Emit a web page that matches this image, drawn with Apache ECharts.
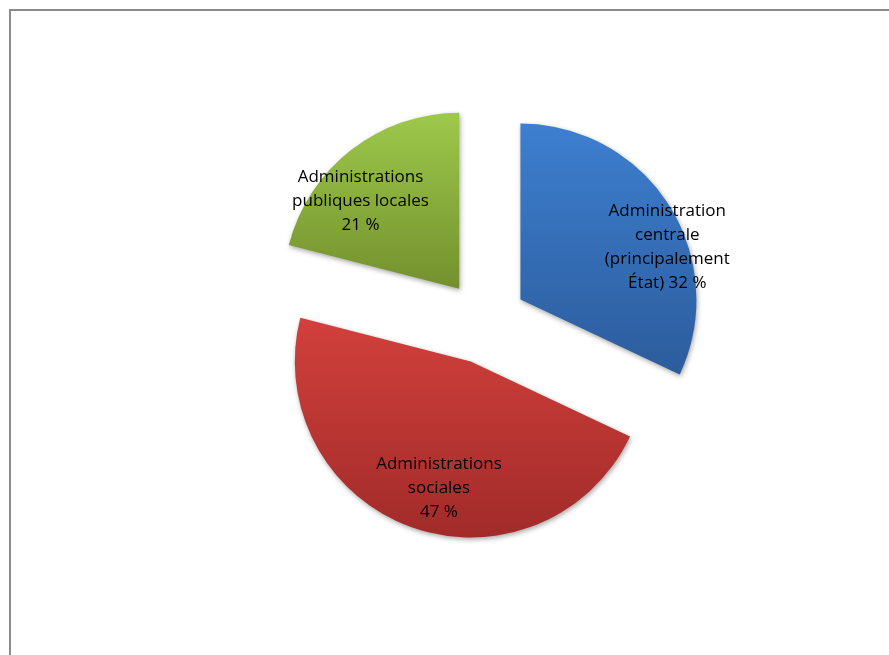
<!DOCTYPE html>
<html>
<head>
<meta charset="utf-8">
<script src="https://cdn.jsdelivr.net/npm/echarts@6/dist/echarts.min.js"></script>
<style>
  html, body { margin: 0; padding: 0; background: #ffffff; }
  #chart { width: 889px; height: 655px; }
</style>
</head>
<body>
<div id="chart"></div>
<script>
// Répartition de la dépense par sous-secteur des administrations publiques
const categories = [
  'Administration\ncentrale\n(principalement\nÉtat)',
  'Administrations\nsociales',
  'Administrations\npubliques locales'
];
const values = [32, 47, 21];
const valueSeparators = [' ', '\n', '\n'];

// Dégradés verticaux pour chaque secteur
const gradients = [
  ['#3d7fd0', '#2c5c9c'],
  ['#d2403c', '#a12b29'],
  ['#9dc94b', '#73902d']
];
// Décalage des étiquettes dans chaque secteur
const labelShift = [[70, -4], [-1, 41], [-43, -16]];

const chart = echarts.init(document.getElementById('chart'), null, { renderer: 'canvas' });

const data = categories.map((name, i) => ({
  name: name,
  value: values[i],
  selected: true,
  itemStyle: {
    color: new echarts.graphic.LinearGradient(0, 0, 0, 1, [
      { offset: 0, color: gradients[i][0] },
      { offset: 1, color: gradients[i][1] }
    ])
  }
}));

chart.setOption({
  animation: false,
  backgroundColor: '#ffffff',
  graphic: [{
    type: 'rect',
    shape: { x: 10, y: 10, width: 940, height: 700 },
    style: { fill: 'none', stroke: '#8a8a8a', lineWidth: 2 },
    silent: true
  }],
  series: [{
    type: 'pie',
    center: [485, 322],
    radius: [0, 176],
    startAngle: 90,
    clockwise: true,
    selectedMode: 'multiple',
    selectedOffset: 42,
    avoidLabelOverlap: false,
    itemStyle: {
      shadowColor: 'rgba(0,0,0,0.35)',
      shadowBlur: 5,
      shadowOffsetX: 1,
      shadowOffsetY: 2
    },
    label: {
      show: true,
      position: 'inside',
      color: '#000000',
      fontFamily: 'Open Sans',
      fontSize: 17,
      lineHeight: 24,
      align: 'center',
      formatter: p => p.name + valueSeparators[p.dataIndex] + p.value + ' %'
    },
    labelLine: { show: false },
    labelLayout: p => ({ dx: labelShift[p.dataIndex][0], dy: labelShift[p.dataIndex][1] }),
    emphasis: { disabled: true },
    data: data
  }]
});
</script>
</body>
</html>
